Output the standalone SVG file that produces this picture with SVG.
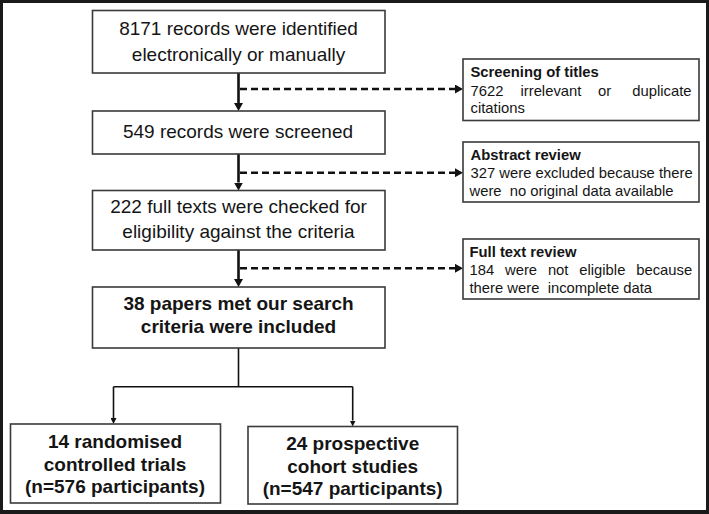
<svg xmlns="http://www.w3.org/2000/svg" width="709" height="514" viewBox="0 0 709 514">
<defs>
<marker id="ahThick" viewBox="0 0 8 9" refX="0" refY="4.5" markerWidth="8" markerHeight="9" markerUnits="userSpaceOnUse" orient="auto">
<path d="M0,0 L8,4.5 L0,9 Z" fill="#111"/>
</marker>
<marker id="ahThin" viewBox="0 0 6 6" refX="0" refY="3" markerWidth="6" markerHeight="6" markerUnits="userSpaceOnUse" orient="auto">
<path d="M0,0 L6,3 L0,6 Z" fill="#111"/>
</marker>
</defs>
<style>
.box{fill:#fff;stroke:#3a3a3a;stroke-width:1.6}
.t{font-family:"Liberation Sans",Arial,sans-serif;font-size:19px;fill:#151515;text-anchor:middle}
.b{font-weight:bold}
.s{font-family:"Liberation Sans",Arial,sans-serif;font-size:14.8px;fill:#151515}
.main{fill:none;stroke:#111;stroke-width:2.6}
.dash{fill:none;stroke:#111;stroke-width:2.6;stroke-dasharray:7 4}
.thin{fill:none;stroke:#111;stroke-width:1.6}
</style>
<rect x="0" y="0" width="709" height="514" fill="#1a1a1a"/>
<rect x="3" y="3" width="703" height="507" fill="#fff"/>

<g id="connectors">
<line class="main" x1="238.5" y1="73" x2="238.5" y2="103" marker-end="url(#ahThick)"/>
<line class="main" x1="238.5" y1="154" x2="238.5" y2="182.5" marker-end="url(#ahThick)"/>
<line class="main" x1="238.5" y1="250" x2="238.5" y2="279" marker-end="url(#ahThick)"/>
<line class="dash" x1="240" y1="89" x2="455" y2="89" marker-end="url(#ahThick)"/>
<line class="dash" x1="240" y1="172.7" x2="455" y2="172.7" marker-end="url(#ahThick)"/>
<line class="dash" x1="240" y1="268.3" x2="455" y2="268.3" marker-end="url(#ahThick)"/>
<path class="thin" d="M238.5,348 V386.7 M113.5,386.7 H352.7"/>
<line class="thin" x1="113.5" y1="386.7" x2="113.5" y2="418" marker-end="url(#ahThin)"/>
<line class="thin" x1="352.7" y1="386.7" x2="352.7" y2="420.5" marker-end="url(#ahThin)"/>
</g>

<g id="n1">
<rect class="box" x="92.5" y="10.5" width="292.5" height="62.5"/>
<text class="t" x="238.5" y="34.5">8171 records were identified</text>
<text class="t" x="238.5" y="60.5">electronically or manually</text>
</g>
<g id="n2">
<rect class="box" x="92.5" y="111" width="292.5" height="43"/>
<text class="t" x="238" y="137.7" textLength="230" lengthAdjust="spacingAndGlyphs">549 records were screened</text>
</g>
<g id="n3">
<rect class="box" x="92.5" y="190.5" width="292.5" height="59.5"/>
<text class="t" x="238.5" y="212.7">222 full texts were checked for</text>
<text class="t" x="238.5" y="238">eligibility against the criteria</text>
</g>
<g id="n4">
<rect class="box" x="92.5" y="287" width="292.5" height="61"/>
<text class="t b" x="238.5" y="309.5">38 papers met our search</text>
<text class="t b" x="238.5" y="332.5">criteria were included</text>
</g>
<g id="s1">
<rect class="box" x="463" y="59" width="236" height="61.5"/>
<text class="s b" x="470.5" y="77">Screening of titles</text>
<text class="s" y="95.5"><tspan x="470.5">7622</tspan><tspan x="520.5">irrelevant</tspan><tspan x="598.1">or</tspan><tspan x="632.3">duplicate</tspan></text>
<text class="s" x="470.5" y="112.8">citations</text>
</g>
<g id="s2">
<rect class="box" x="463" y="142" width="236" height="60"/>
<text class="s b" x="470.5" y="159.5">Abstract review</text>
<text class="s" x="470.5" y="177.5">327 were excluded because there</text>
<text class="s" x="469.5" y="195.5" xml:space="preserve">were  no original data available</text>
</g>
<g id="s3">
<rect class="box" x="463" y="239" width="236" height="60"/>
<text class="s b" x="469.5" y="256.5">Full text review</text>
<text class="s" y="274.5"><tspan x="469.5">184</tspan><tspan x="505">were</tspan><tspan x="547.9">not</tspan><tspan x="579.3">eligible</tspan><tspan x="636.2">because</tspan></text>
<text class="s" x="469.5" y="292.5" xml:space="preserve">there were  incomplete data</text>
</g>
<g id="b1">
<rect class="box" x="10.5" y="424" width="210" height="79"/>
<text class="t b" x="115" y="447.5">14 randomised</text>
<text class="t b" x="115" y="470.5">controlled trials</text>
<text class="t b" x="115" y="493">(n=576 participants)</text>
</g>
<g id="b2">
<rect class="box" x="248" y="426.5" width="209.5" height="77.5"/>
<text class="t b" x="352.7" y="449.5">24 prospective</text>
<text class="t b" x="352.7" y="472.5">cohort studies</text>
<text class="t b" x="352.7" y="495">(n=547 participants)</text>
</g>
</svg>
